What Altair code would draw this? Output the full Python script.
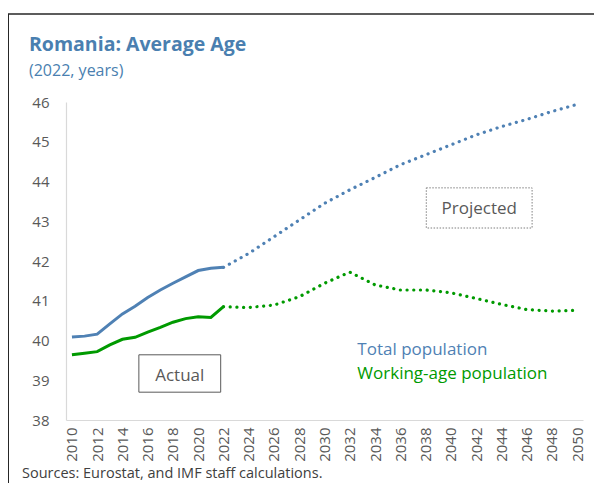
import altair as alt
import pandas as pd

# Actual data (yearly)
actual_years = list(range(2010, 2023))
actual_total = [40.09, 40.11, 40.16, 40.42, 40.67, 40.86, 41.08, 41.27, 41.44, 41.60, 41.76, 41.82, 41.84]
actual_working = [39.64, 39.68, 39.72, 39.89, 40.03, 40.08, 40.21, 40.33, 40.46, 40.55, 40.60, 40.58, 40.85]

# Projections (every two years)
proj_years = list(range(2022, 2051, 2))
proj_total = [41.84, 42.19, 42.61, 43.03, 43.45, 43.79, 44.10, 44.42, 44.67, 44.92, 45.17, 45.38, 45.56, 45.76, 45.94]
proj_working = [40.85, 40.83, 40.89, 41.10, 41.44, 41.72, 41.40, 41.27, 41.27, 41.20, 41.06, 40.91, 40.78, 40.74, 40.76]

x_ticks = list(range(2010, 2051, 2))
y_ticks = list(range(38, 47))

BLUE = "#4f81b4"
GREEN = "#009a00"
FONT = "Open Sans"

rows = []
for y, t, w in zip(actual_years, actual_total, actual_working):
    rows.append({"year": y, "value": t, "series": "Total population", "phase": "Actual"})
    rows.append({"year": y, "value": w, "series": "Working-age population", "phase": "Actual"})
for y, t, w in zip(proj_years, proj_total, proj_working):
    rows.append({"year": y, "value": t, "series": "Total population", "phase": "Projected"})
    rows.append({"year": y, "value": w, "series": "Working-age population", "phase": "Projected"})
df = pd.DataFrame(rows)

xscale = alt.Scale(domain=[2009.53, 2050.47], nice=False, zero=False)
yscale = alt.Scale(domain=[38, 46], nice=False, zero=False)
color = alt.Color("series:N", scale=alt.Scale(domain=["Total population", "Working-age population"], range=[BLUE, GREEN]), legend=None)

xaxis = alt.Axis(values=x_ticks, format="d", labelAngle=-90, labelAlign="right", labelBaseline="middle",
                 labelPadding=7, ticks=False, grid=False, domainColor="#d9d9d9", domainWidth=1.2,
                 labelColor="#595959", labelFont=FONT, labelFontSize=15, title=None, labelOverlap=False,
                 tickCount=21)
yaxis = alt.Axis(values=y_ticks, ticks=False, grid=False, domainColor="#d9d9d9", domainWidth=1.2,
                 labelColor="#595959", labelFont=FONT, labelFontSize=15, labelPadding=17, title=None,
                 labelOverlap=False, tickCount=9)


def X(field):
    return alt.X(field, scale=xscale, axis=xaxis, title=None)


def Y(field):
    return alt.Y(field, scale=yscale, axis=yaxis, title=None)


base = alt.Chart(df)
actual = base.transform_filter(alt.datum.phase == "Actual").mark_line(strokeWidth=3, clip=False).encode(
    x=X("year:Q"), y=Y("value:Q"), color=color, detail="series:N",
)
proj = base.transform_filter(alt.datum.phase == "Projected").mark_line(
    strokeWidth=3.2, strokeDash=[0.1, 6.6], strokeCap="round", clip=False).encode(
    x=X("year:Q"), y=Y("value:Q"), color=color, detail="series:N",
)

boxes = pd.DataFrame({
    "x": [2015.3, 2038.06], "x2": [2021.78, 2046.44],
    "y": [39.64, 43.84], "y2": [38.70, 42.83],
    "label": ["Actual", "Projected"],
    "tx": [2018.54, 2042.25], "ty": [39.11, 43.31],
})
box_actual = alt.Chart(boxes.iloc[[0]]).mark_rect(fill="white", stroke="#595959", strokeWidth=1).encode(
    x=X("x:Q"), x2="x2:Q", y=Y("y:Q"), y2="y2:Q")
box_proj = alt.Chart(boxes.iloc[[1]]).mark_rect(fill="white", stroke="#7f7f7f", strokeWidth=1, strokeDash=[1.5, 1.5]).encode(
    x=X("x:Q"), x2="x2:Q", y=Y("y:Q"), y2="y2:Q")
box_text = alt.Chart(boxes).mark_text(font=FONT, fontSize=17, color="#595959", align="center", baseline="middle").encode(
    x=X("tx:Q"), y=Y("ty:Q"), text="label:N")

leg = pd.DataFrame({"x": [2032.6, 2032.6], "y": [39.64, 39.03],
                    "label": ["Total population", "Working-age population"]})
leg_text = alt.Chart(leg).mark_text(font=FONT, fontSize=17, align="left", baseline="alphabetic").encode(
    x=X("x:Q"), y=Y("y:Q"), text="label:N",
    color=alt.Color("label:N", scale=alt.Scale(domain=["Total population", "Working-age population"],
                                               range=[BLUE, "#1a9e1a"]), legend=None))

title = alt.Chart(pd.DataFrame({"t": ["Romania: Average Age"]})).mark_text(
    font=FONT, fontSize=19.5, fontWeight="bold", color="#4a7fb0", align="left", baseline="alphabetic").encode(
    x=alt.value(-37), y=alt.value(-51), text="t:N")
subtitle = alt.Chart(pd.DataFrame({"t": ["(2022, years)"]})).mark_text(
    font=FONT, fontSize=16, color="#4a7fb0", align="left", baseline="alphabetic").encode(
    x=alt.value(-37), y=alt.value(-26), text="t:N")
source = alt.Chart(pd.DataFrame({"t": ["Sources: Eurostat, and IMF staff calculations."]})).mark_text(
    font=FONT, fontSize=14.5, color="#404040", align="left", baseline="alphabetic").encode(
    x=alt.value(-44), y=alt.value(376), text="t:N")

frame_left = alt.Chart(pd.DataFrame({"a": [0]})).mark_rule(color="#262626", strokeWidth=2).encode(
    x=alt.value(-58), y=alt.value(-88), y2=alt.value(400))
frame_top = alt.Chart(pd.DataFrame({"a": [0]})).mark_rule(color="#262626", strokeWidth=1.5).encode(
    x=alt.value(-58), x2=alt.value(560), y=alt.value(-88))

chart = alt.layer(
    actual, proj, box_actual, box_proj, box_text, leg_text, title, subtitle, source, frame_left, frame_top
).properties(
    width=517, height=318,
    autosize=alt.AutoSizeParams(type="none"),
    padding={"left": 58, "top": 94, "right": 11, "bottom": 63},
).configure_view(stroke=None)

chart.save("out.html", embed_options={"renderer": "svg", "actions": False})
